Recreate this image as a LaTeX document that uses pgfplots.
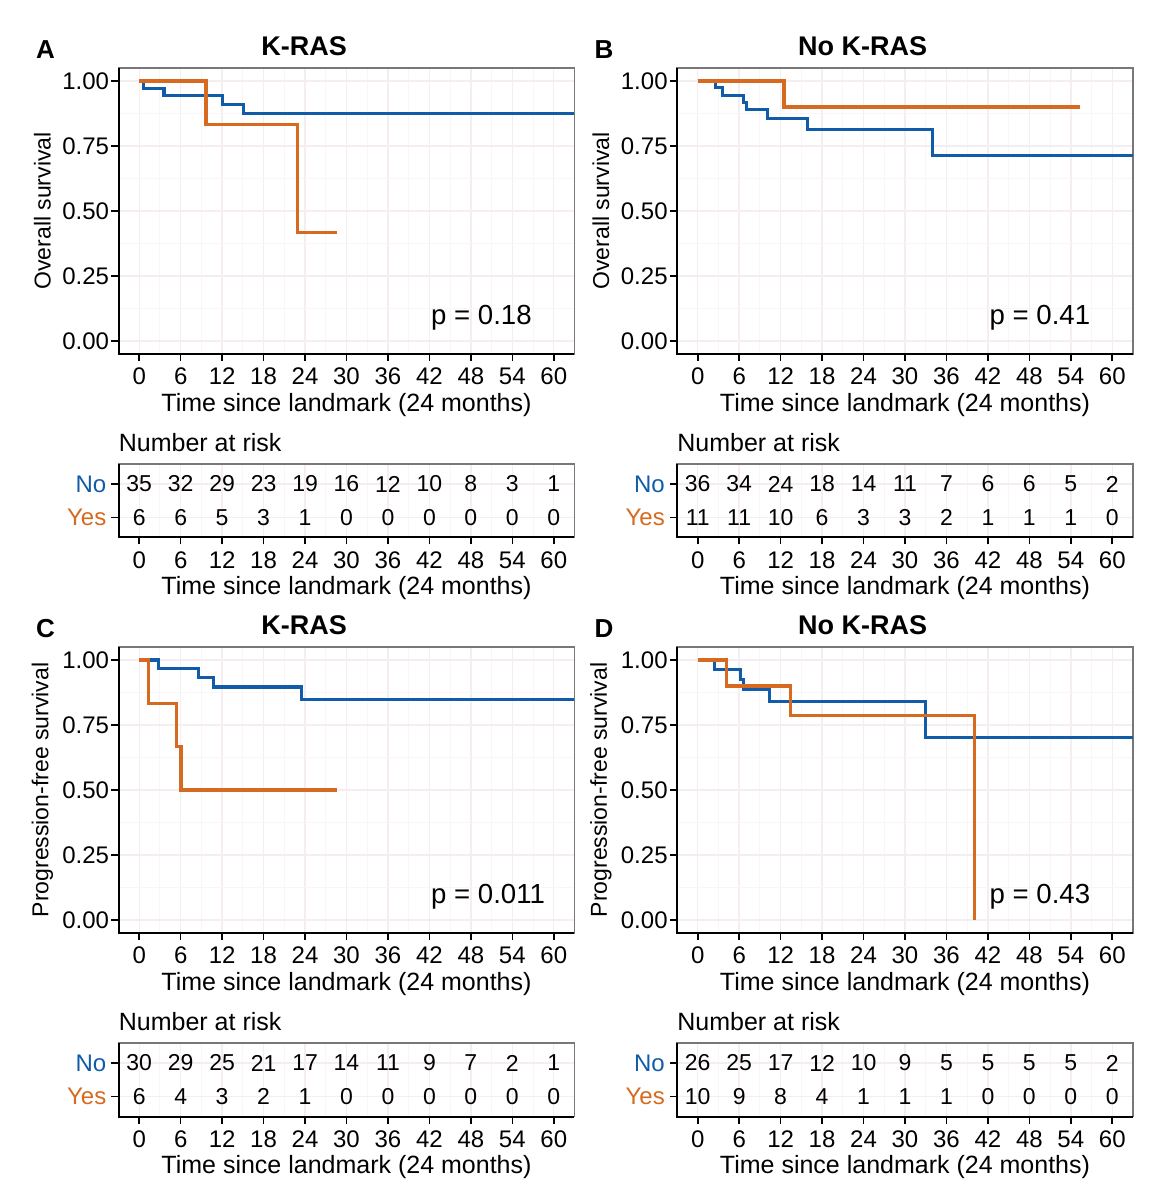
\documentclass[border=0pt]{standalone}
\usepackage{fontspec}
\setmainfont{Liberation Sans}
\usepackage{pgfplots}
\usepackage{pgfplotstable}
\pgfplotsset{compat=1.18}

\definecolor{kmblue}{RGB}{16,92,168}
\definecolor{kmorange}{RGB}{214,106,32}
\definecolor{gridmaj}{RGB}{245,237,239}
\definecolor{gridmin}{RGB}{250,245,246}
\definecolor{framegray}{RGB}{120,120,120}

\newcommand\fs[1]{\fontsize{#1}{#1}\selectfont}

% number at risk
\pgfplotstableread{
t  no yes
0  35 6
6  32 6
12 29 5
18 23 3
24 19 1
30 16 0
36 12 0
42 10 0
48 8  0
54 3  0
60 1  0
}\riskA
\pgfplotstableread{
t  no yes
0  36 11
6  34 11
12 24 10
18 18 6
24 14 3
30 11 3
36 7  2
42 6  1
48 6  1
54 5  1
60 2  0
}\riskB
\pgfplotstableread{
t  no yes
0  30 6
6  29 4
12 25 3
18 21 2
24 17 1
30 14 0
36 11 0
42 9  0
48 7  0
54 2  0
60 1  0
}\riskC
\pgfplotstableread{
t  no yes
0  26 10
6  25 9
12 17 8
18 12 4
24 10 1
30 9  1
36 5  1
42 5  0
48 5  0
54 5  0
60 2  0
}\riskD

\pgfplotsset{
  common/.style={
    scale only axis, width=228pt,
    xmin=-3, xmax=63,
    xtick={0,6,...,60}, minor x tick num=1,
    grid=both,
    major grid style={draw=gridmaj, line width=0.7pt},
    minor grid style={draw=gridmin, line width=0.5pt},
    tick pos=left, tick align=outside,
    major tick length=3.5pt, minor tick length=0pt,
    tick style={black, line width=0.8pt},
    axis line style={draw=framegray, line width=0.6pt},
    clip mode=individual,
    /pgf/number format/assume math mode=true,
    ticklabel style={font=\fs{12}},
    label style={font=\fs{12.5}},
    xlabel={Time since landmark (24 months)},
  },
  km/.style={
    common, height=143pt,
    ymin=-0.05, ymax=1.05,
    ytick={0,0.25,0.5,0.75,1},
    yticklabels={0.00,0.25,0.50,0.75,1.00},
    minor y tick num=1,
    yticklabel style={inner xsep=1pt},
    xlabel style={at={(axis description cs:0.5,-0.177)}, anchor=center},
    ylabel style={at={(axis description cs:-0.1668,0.5)}, anchor=center, font=\fs{11.5}},
    title style={at={(axis description cs:0.407,1.0745)}, anchor=center, yshift=-6pt, font=\bfseries\fs{13.5}},
  },
  risk/.style={
    common, height=36.75pt,
    ymin=0.4, ymax=2.6,
    ytick={1,2},
    yticklabels={\textcolor{kmorange}{Yes},\textcolor{kmblue}{No}},
    yticklabel style={inner xsep=2.4pt},
    xlabel style={at={(axis description cs:0.5,-0.69)}, anchor=center},
    title={Number at risk},
    title style={at={(axis description cs:0,1.2865)}, anchor=west, yshift=-6pt, inner sep=0pt, font=\fs{12.5}},
  },
  surv/.style={const plot, line width=1.6pt},
  num/.style={draw=none, nodes near coords, point meta=explicit symbolic,
    every node near coord/.style={anchor=center, font=\fs{11.5}, black}},
}

\newcommand\axlines{\draw[black, line width=1pt] (rel axis cs:0,1) -- (rel axis cs:0,0) -- (rel axis cs:1,0);}
\newcommand\plabel[2]{\node[anchor=west, inner sep=0pt, font=\fs{13.8}] at (axis cs:42.2,#1) {#2};}
\newcommand\panel[1]{\node[font=\bfseries\fs{13}] at (rel axis cs:-0.16,1.063) {#1};}

\begin{document}
\begin{tikzpicture}
\useasboundingbox (0,0) rectangle (583.5pt,600pt);

% A: overall survival, K-RAS
\begin{axis}[km, at={(59.25pt,423pt)}, anchor=south west, ylabel={Overall survival}, title={K-RAS}]
\addplot[surv, kmblue] coordinates {(0,1) (0.6,0.972) (3.6,0.943) (12.05,0.911) (15.1,0.874) (63,0.874)};
\addplot[surv, kmorange] coordinates {(0,1) (9.66,0.833) (22.9,0.417) (28.6,0.417)};
\plabel{0.09}{p = 0.18}
\panel{A}
\axlines
\end{axis}
\begin{axis}[risk, at={(59.25pt,331.25pt)}, anchor=south west]
\addplot[num] table[x=t, y expr=2, meta=no] {\riskA};
\addplot[num] table[x=t, y expr=1, meta=yes] {\riskA};
\axlines
\end{axis}

% B: overall survival, no K-RAS
\begin{axis}[km, at={(338.5pt,423pt)}, anchor=south west, ylabel={Overall survival}, title={No K-RAS}]
\addplot[surv, kmblue] coordinates {(0,1) (2.6,0.974) (3.6,0.944) (6.6,0.917) (7.1,0.889) (10.1,0.857) (15.9,0.814) (34.0,0.713) (63,0.713)};
\addplot[surv, kmorange] coordinates {(0,1) (12.5,0.9) (55.4,0.9)};
\plabel{0.09}{p = 0.41}
\panel{B}
\axlines
\end{axis}
\begin{axis}[risk, at={(338.5pt,331.25pt)}, anchor=south west]
\addplot[num] table[x=t, y expr=2, meta=no] {\riskB};
\addplot[num] table[x=t, y expr=1, meta=yes] {\riskB};
\axlines
\end{axis}

% C: progression-free survival, K-RAS
\begin{axis}[km, at={(59.25pt,133.5pt)}, anchor=south west, ylabel={Progression-free survival}, title={K-RAS}]
\addplot[surv, kmblue] coordinates {(0,1) (2.8,0.966) (8.6,0.933) (10.7,0.896) (23.5,0.847) (63,0.847)};
\addplot[surv, kmorange] coordinates {(0,1) (1.4,0.833) (5.35,0.667) (6.05,0.5) (28.6,0.5)};
\plabel{0.088}{p = 0.011}
\panel{C}
\axlines
\end{axis}
\begin{axis}[risk, at={(59.25pt,41.75pt)}, anchor=south west]
\addplot[num] table[x=t, y expr=2, meta=no] {\riskC};
\addplot[num] table[x=t, y expr=1, meta=yes] {\riskC};
\axlines
\end{axis}

% D: progression-free survival, no K-RAS
\begin{axis}[km, at={(338.5pt,133.5pt)}, anchor=south west, ylabel={Progression-free survival}, title={No K-RAS}]
\addplot[surv, kmblue] coordinates {(0,1) (2.4,0.962) (6.2,0.924) (6.6,0.888) (10.4,0.841) (33.0,0.701) (63,0.701)};
\addplot[surv, kmorange] coordinates {(0,1) (4.2,0.9) (13.4,0.788) (40.1,0)};
\plabel{0.088}{p = 0.43}
\panel{D}
\axlines
\end{axis}
\begin{axis}[risk, at={(338.5pt,41.75pt)}, anchor=south west]
\addplot[num] table[x=t, y expr=2, meta=no] {\riskD};
\addplot[num] table[x=t, y expr=1, meta=yes] {\riskD};
\axlines
\end{axis}
\end{tikzpicture}
\end{document}
